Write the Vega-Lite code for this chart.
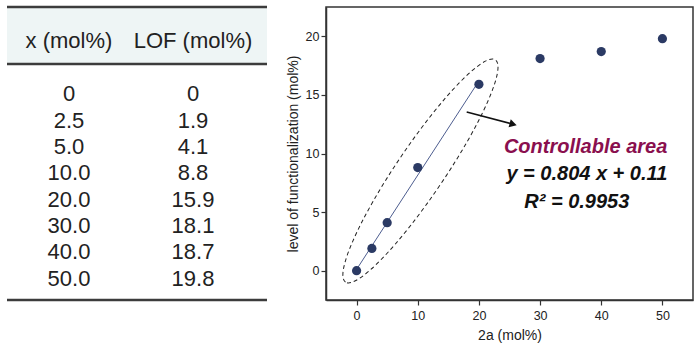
{
  "$schema": "https://vega.github.io/schema/vega-lite/v6.json",
  "padding": {"left": 5, "top": 5, "right": 0, "bottom": 0},
  "autosize": {"type": "pad"},
  "spacing": 16,
  "config": {
    "font": "Liberation Sans",
    "view": {"stroke": null},
    "axis": {"grid": false, "domainColor": "#333", "domainWidth": 1.5, "tickColor": "#333", "tickWidth": 1.2, "labelColor": "#222", "titleColor": "#222"}
  },
  "datasets": {
    "header": [{"top": -1.3, "bottom": 0.86}],
    "rules": [{"row": -1.3}, {"row": 0.86}, {"row": 9.8}],
    "table": [
      {"col": "x", "row": 0, "text": "x (mol%)"},
      {"col": "LOF", "row": 0, "text": "LOF (mol%)"},
      {"col": "x", "row": 2, "text": "0"},
      {"col": "LOF", "row": 2, "text": "0"},
      {"col": "x", "row": 3, "text": "2.5"},
      {"col": "LOF", "row": 3, "text": "1.9"},
      {"col": "x", "row": 4, "text": "5.0"},
      {"col": "LOF", "row": 4, "text": "4.1"},
      {"col": "x", "row": 5, "text": "10.0"},
      {"col": "LOF", "row": 5, "text": "8.8"},
      {"col": "x", "row": 6, "text": "20.0"},
      {"col": "LOF", "row": 6, "text": "15.9"},
      {"col": "x", "row": 7, "text": "30.0"},
      {"col": "LOF", "row": 7, "text": "18.1"},
      {"col": "x", "row": 8, "text": "40.0"},
      {"col": "LOF", "row": 8, "text": "18.7"},
      {"col": "x", "row": 9, "text": "50.0"},
      {"col": "LOF", "row": 9, "text": "19.8"}
    ],
    "lof": [
      {"x": 0, "y": 0},
      {"x": 2.5, "y": 1.9},
      {"x": 5, "y": 4.1},
      {"x": 10, "y": 8.8},
      {"x": 20, "y": 15.9},
      {"x": 30, "y": 18.1},
      {"x": 40, "y": 18.7},
      {"x": 50, "y": 19.8}
    ],
    "fit": [{"x": 0, "y": 0.11}, {"x": 20, "y": 16.19}],
    "ellipse": [{"x": 10.44, "y": 8.51}],
    "arrow": [{"x1": 18.0, "y1": 13.54, "x2": 25.6, "y2": 12.5}],
    "title1": [{"x": 50.8, "y": 10.55, "text": "Controllable area"}],
    "eq": [{"x": 50.8, "y": 8.25, "text": "y = 0.804 x + 0.11"}],
    "r2": [{"x": 36.0, "y": 5.86, "text": "R² = 0.9953"}]
  },
  "hconcat": [
    {
      "width": 260,
      "height": 293,
      "layer": [
        {
          "data": {"name": "header"},
          "mark": {"type": "rect", "color": "#eef5f5"},
          "encoding": {
            "y": {"field": "top", "type": "quantitative", "scale": {"domain": [-1.3, 9.8], "reverse": true, "nice": false, "zero": false}, "axis": null},
            "y2": {"field": "bottom"}
          }
        },
        {
          "data": {"name": "rules"},
          "mark": {"type": "rule", "color": "#3c3c3c", "strokeWidth": 2.5},
          "encoding": {"y": {"field": "row", "type": "quantitative", "axis": null}}
        },
        {
          "data": {"name": "table"},
          "mark": {"type": "text", "fontSize": 22, "color": "#222", "baseline": "middle"},
          "encoding": {
            "x": {"field": "col", "type": "nominal", "scale": {"type": "point", "domain": ["x", "LOF"], "range": [62, 186], "padding": 0}, "axis": null},
            "y": {"field": "row", "type": "quantitative", "axis": null},
            "text": {"field": "text"}
          }
        }
      ]
    },
    {
      "width": 367,
      "height": 293,
      "view": {"stroke": "#333", "strokeWidth": 1.5},
      "layer": [
        {
          "data": {"name": "fit"},
          "mark": {"type": "line", "color": "#4d5d8f", "strokeWidth": 1},
          "encoding": {
            "x": {"field": "x", "type": "quantitative", "scale": {"domain": [-5, 55], "nice": false, "zero": false},
              "axis": {"values": [0, 5, 10, 15, 20, 25, 30, 35, 40, 45, 50], "labelOverlap": false, "labelExpr": "datum.value % 10 == 0 ? toString(datum.value) : ''", "tickSize": 5, "labelFontSize": 12.5, "labelPadding": 4, "title": "2a (mol%)", "titleFontSize": 14, "titleFontWeight": "normal", "titlePadding": 7}},
            "y": {"field": "y", "type": "quantitative", "scale": {"domain": [-2.5, 22.5], "nice": false, "zero": false},
              "axis": {"values": [0, 2.5, 5, 7.5, 10, 12.5, 15, 17.5, 20], "labelOverlap": false, "labelExpr": "datum.value % 5 == 0 ? toString(datum.value) : ''", "tickSize": 5, "labelFontSize": 12.5, "labelPadding": 2, "title": "level of functionalization (mol%)", "titleFontSize": 14, "titleFontWeight": "normal", "titlePadding": 5}}
          }
        },
        {
          "data": {"name": "lof"},
          "mark": {"type": "circle", "size": 85, "color": "#2b3a64", "opacity": 1},
          "encoding": {
            "x": {"field": "x", "type": "quantitative"},
            "y": {"field": "y", "type": "quantitative"}
          }
        },
        {
          "data": {"name": "ellipse"},
          "mark": {"type": "point", "shape": "M -1 0 A 1 0.18 0 1 1 1 0 A 1 0.18 0 1 1 -1 0 Z", "size": 71824, "angle": 304, "filled": false, "stroke": "#222", "strokeWidth": 1, "strokeDash": [4, 3], "opacity": 1},
          "encoding": {
            "x": {"field": "x", "type": "quantitative"},
            "y": {"field": "y", "type": "quantitative"}
          }
        },
        {
          "data": {"name": "arrow"},
          "mark": {"type": "rule", "color": "#111", "strokeWidth": 1.5},
          "encoding": {
            "x": {"field": "x1", "type": "quantitative"},
            "y": {"field": "y1", "type": "quantitative"},
            "x2": {"field": "x2"},
            "y2": {"field": "y2"}
          }
        },
        {
          "data": {"name": "arrow"},
          "mark": {"type": "point", "shape": "triangle-right", "size": 70, "angle": 15, "filled": true, "color": "#111", "opacity": 1},
          "encoding": {
            "x": {"field": "x2", "type": "quantitative"},
            "y": {"field": "y2", "type": "quantitative"}
          }
        },
        {
          "data": {"name": "title1"},
          "mark": {"type": "text", "fontSize": 20, "fontWeight": "bold", "fontStyle": "italic", "color": "#8a0f4e", "align": "right", "baseline": "middle"},
          "encoding": {
            "x": {"field": "x", "type": "quantitative"},
            "y": {"field": "y", "type": "quantitative"},
            "text": {"field": "text"}
          }
        },
        {
          "data": {"name": "eq"},
          "mark": {"type": "text", "fontSize": 20, "fontWeight": "bold", "fontStyle": "italic", "color": "#111", "align": "right", "baseline": "middle"},
          "encoding": {
            "x": {"field": "x", "type": "quantitative"},
            "y": {"field": "y", "type": "quantitative"},
            "text": {"field": "text"}
          }
        },
        {
          "data": {"name": "r2"},
          "mark": {"type": "text", "fontSize": 20, "fontWeight": "bold", "fontStyle": "italic", "color": "#111", "align": "center", "baseline": "middle"},
          "encoding": {
            "x": {"field": "x", "type": "quantitative"},
            "y": {"field": "y", "type": "quantitative"},
            "text": {"field": "text"}
          }
        }
      ]
    }
  ]
}
